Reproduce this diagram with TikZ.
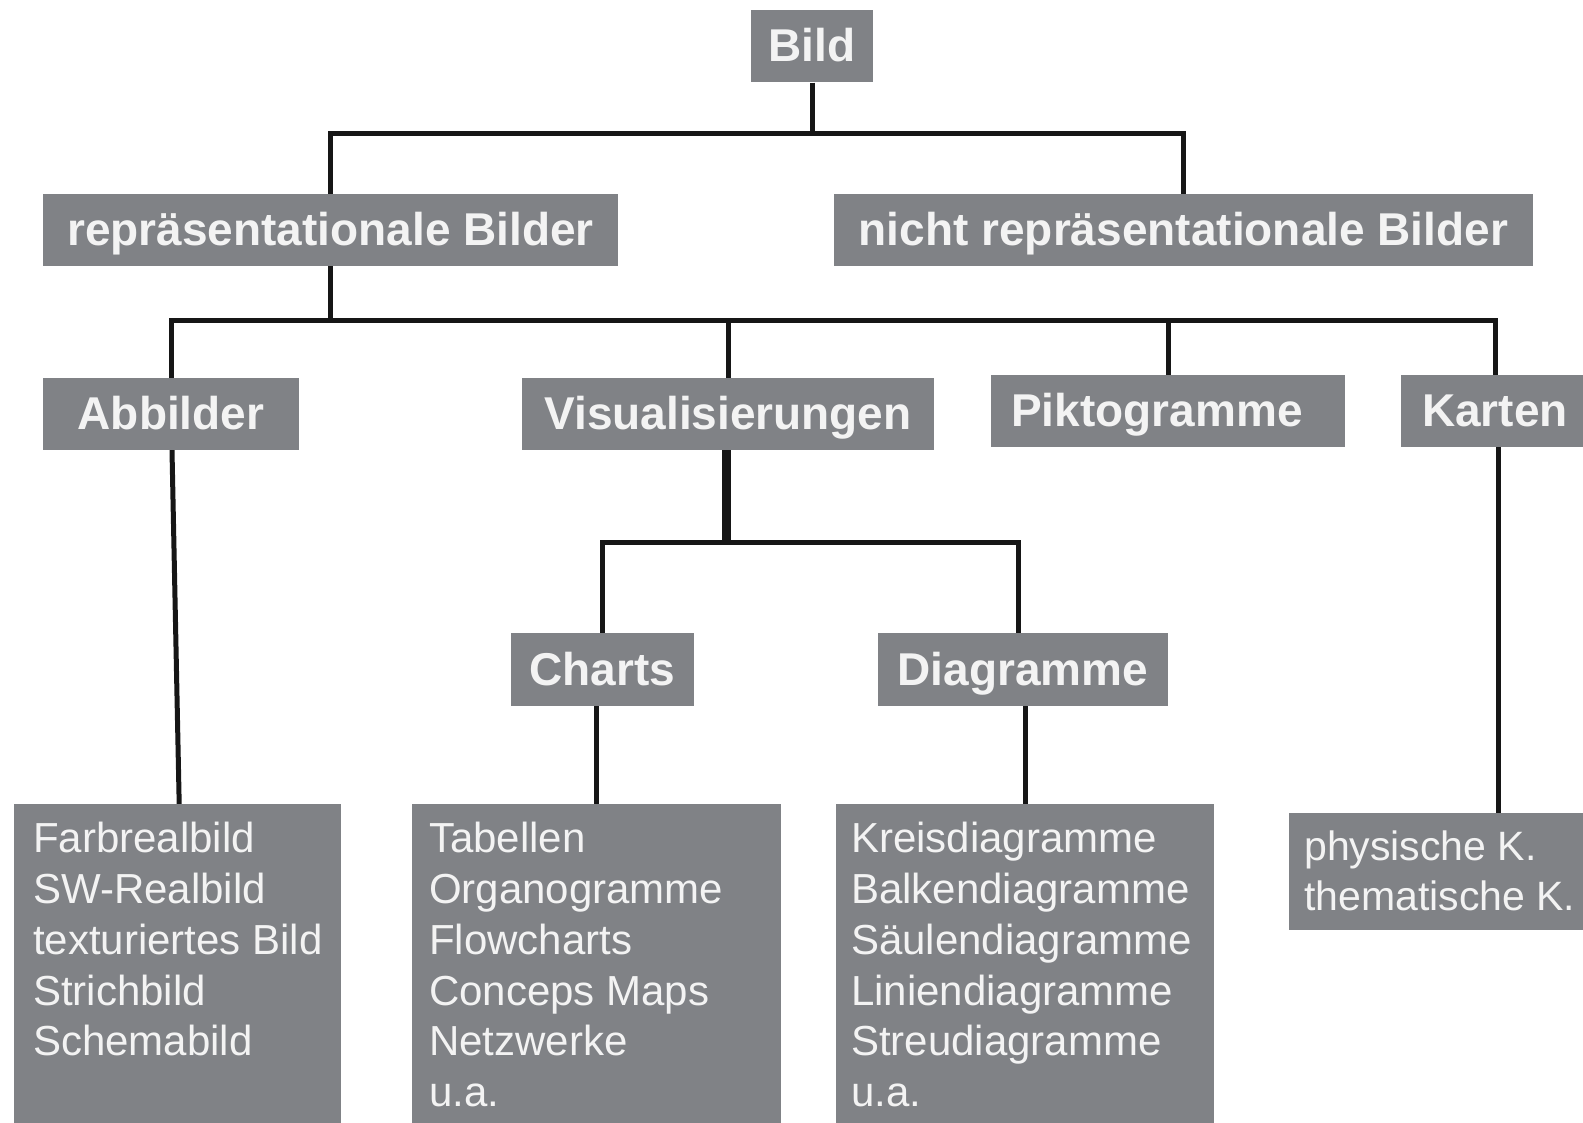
\documentclass[tikz,border=0pt]{standalone}
\usepackage{fontspec}
\setmainfont{Liberation Sans}
\usetikzlibrary{backgrounds}
\definecolor{boxgray}{RGB}{128,130,134}
\definecolor{txtwhite}{RGB}{243,243,243}
\definecolor{linecol}{RGB}{22,22,22}
\begin{document}
\begin{tikzpicture}[x=1pt,y=-1pt,
  hbox/.style={fill=boxgray, inner sep=0pt, text=txtwhite,
    font=\fontsize{46}{54}\selectfont\bfseries,
    minimum height=72pt, text height=34.5pt, text depth=3.5pt},
  leafbox/.style={fill=boxgray, inner sep=0pt, anchor=north west},
  leaftext/.style={text=txtwhite, inner sep=0pt, anchor=north west, align=left,
    font=\fontsize{42}{50.8}\selectfont},
  conn/.style={draw=linecol, line width=5pt},
  stemline/.style={draw=linecol, line width=9pt}]
\useasboundingbox (0,0) rectangle (1583,1123);

% header boxes
\node[hbox, minimum width=122pt] (bild) at (812,46.5) {Bild};
\node[hbox, minimum width=575pt] (repr) at (330.5,230) {repräsentationale Bilder};
\node[hbox, minimum width=699pt] (nicht) at (1183.5,230) {nicht repräsentationale Bilder};
\node[hbox, minimum width=256pt] (abb) at (171,414) {Abbilder};
\node[hbox, minimum width=412pt] (vis) at (728,414) {Visualisierungen};
\node[hbox, minimum width=354pt] (pikto) at (1168,411) {Piktogramme\hspace*{22pt}};
\node[hbox, minimum width=188pt] (karten) at (1495,411) {Karten};
\node[hbox, minimum width=183pt, minimum height=73pt] (charts) at (602.5,669.5) {Charts};
\node[hbox, minimum width=290pt, minimum height=73pt] (diag) at (1023,669.5) {Diagramme};

% leaf boxes
\node[leafbox, minimum width=327pt, minimum height=330pt] (farb) at (14,804) {};
\node[leafbox, minimum width=369pt, minimum height=330pt] (tab) at (412,804) {};
\node[leafbox, minimum width=378pt, minimum height=330pt] (kreis) at (836,804) {};
\node[leafbox, minimum width=300pt, minimum height=117pt] (phys) at (1289,813) {};

% leaf texts
\node[leaftext] (farbT) at (33,822) {Farbrealbild\\SW-Realbild\\texturiertes Bild\\Strichbild\\Schemabild};
\node[leaftext] (tabT) at (429,822) {Tabellen\\Organogramme\\Flowcharts\\Conceps Maps\\Netzwerke\\u.a.};
\node[leaftext] (kreisT) at (851,822) {Kreisdiagramme\\Balkendiagramme\\Säulendiagramme\\Liniendiagramme\\Streudiagramme\\u.a.};
\node[leaftext, font=\fontsize{41}{49.5}\selectfont] (physT) at (1304,830.6) {physische K.\\thematische K.};

% connectors
\coordinate (j1) at (812,134);
\coordinate (j2) at (330.5,321);
\coordinate (j3) at (726,542);
\begin{scope}[on background layer]
\draw[conn] (bild.south) -- (j1);
\draw[conn] (repr.north) |- (j1) -| (nicht.north);
\draw[conn] (repr.south) -- (j2);
\draw[conn] (abb.north) |- (j2) -| (karten.north);
\draw[conn] (vis.north) -- (vis.north |- j2);
\draw[conn] (pikto.north) -- (pikto.north |- j2);
\draw[stemline] (j3 |- vis.south) -- (j3);
\draw[conn] (charts.north) |- (j3) -| ([xshift=-5pt]diag.north);
\draw[conn] (tab.north |- charts.south) -- (tab.north);
\draw[conn] (kreis.north |- diag.south) -- (kreis.north);
\draw[conn] ([xshift=1pt]abb.south) -- ([xshift=1.5pt]farb.north);
\draw[conn] ([xshift=3pt]karten.south) -- ([xshift=3pt]karten.south |- phys.north);
\end{scope}
\end{tikzpicture}
\end{document}
